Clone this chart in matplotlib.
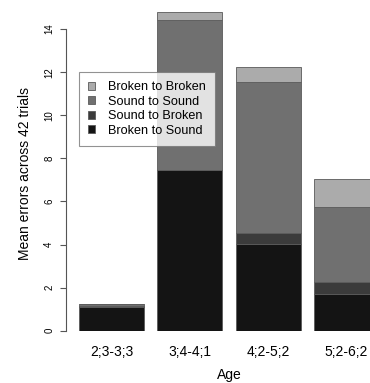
import matplotlib
matplotlib.use('Agg')
import matplotlib.pyplot as plt
from matplotlib.patches import Patch

plt.rcParams['font.family'] = ['Liberation Sans', 'DejaVu Sans']

# data
ages = ['2;3-3;3', '3;4-4;1', '4;2-5;2', '5;2-6;2']
broken_to_sound = [1.10, 7.45, 4.04, 1.70]
sound_to_broken = [0.05, 0.02, 0.49, 0.56]
sound_to_sound = [0.08, 6.93, 7.02, 3.47]
broken_to_broken = [0.03, 0.37, 0.68, 1.31]

series = [
    ('Broken to Sound', broken_to_sound, '#141414'),
    ('Sound to Broken', sound_to_broken, '#3b3b3b'),
    ('Sound to Sound', sound_to_sound, '#707070'),
    ('Broken to Broken', broken_to_broken, '#ababab'),
]

W, H = 370, 383
fig = plt.figure(figsize=(W / 100, H / 100), dpi=100)
left_px, right_px = 66, 392
bottom_px, top_px = 330.7, 7.5
ax = fig.add_axes([left_px / W, 1 - bottom_px / H,
                   (right_px - left_px) / W, (bottom_px - top_px) / H])

xpos = [0.7 + 1.2 * i for i in range(len(ages))]
bottoms = [0.0] * len(ages)
for name, vals, col in series:
    ax.bar(xpos, vals, width=1.0, bottom=bottoms, color=col,
           edgecolor='#5a5a5a', linewidth=0.6)
    bottoms = [b + v for b, v in zip(bottoms, vals)]

ax.set_xlim(0, 5)
ax.set_ylim(0, 15)
ax.set_xticks(xpos)
ax.set_xticklabels(ages, fontsize=10)
ax.tick_params(axis='x', length=0, pad=10)
ax.set_yticks(range(0, 15, 2))
ax.tick_params(axis='y', labelsize=7, length=4.5, width=0.8, pad=4,
               color='#555555', labelrotation=90)
for lab in ax.get_yticklabels():
    lab.set_va('center')

for s in ['top', 'right', 'bottom']:
    ax.spines[s].set_visible(False)
ax.spines['left'].set_bounds(0, 14)
ax.spines['left'].set_color('#555555')
ax.spines['left'].set_linewidth(0.8)

# axis titles placed in figure pixels
fig.text(25 / W, 1 - 174 / H, 'Mean errors across 42 trials', fontsize=10,
         rotation=90, ha='center', va='center')
fig.text(229 / W, 1 - 375.5 / H, 'Age', fontsize=10, ha='center', va='center')

handles = [Patch(facecolor=c, edgecolor='#5a5a5a', linewidth=0.6, label=n)
           for n, v, c in reversed(series)]
leg = ax.legend(handles=handles, loc='upper left',
                bbox_to_anchor=(78.7 / W, 1 - 71.7 / H),
                bbox_transform=fig.transFigure, fontsize=9.1,
                frameon=True, fancybox=False, borderaxespad=0,
                handlelength=0.55, handleheight=0.55, handletextpad=1.0,
                labelspacing=0.2, borderpad=0.75)
leg.get_frame().set_edgecolor('#777777')
leg.get_frame().set_linewidth(0.8)

fig.savefig('out.png', dpi=100)
